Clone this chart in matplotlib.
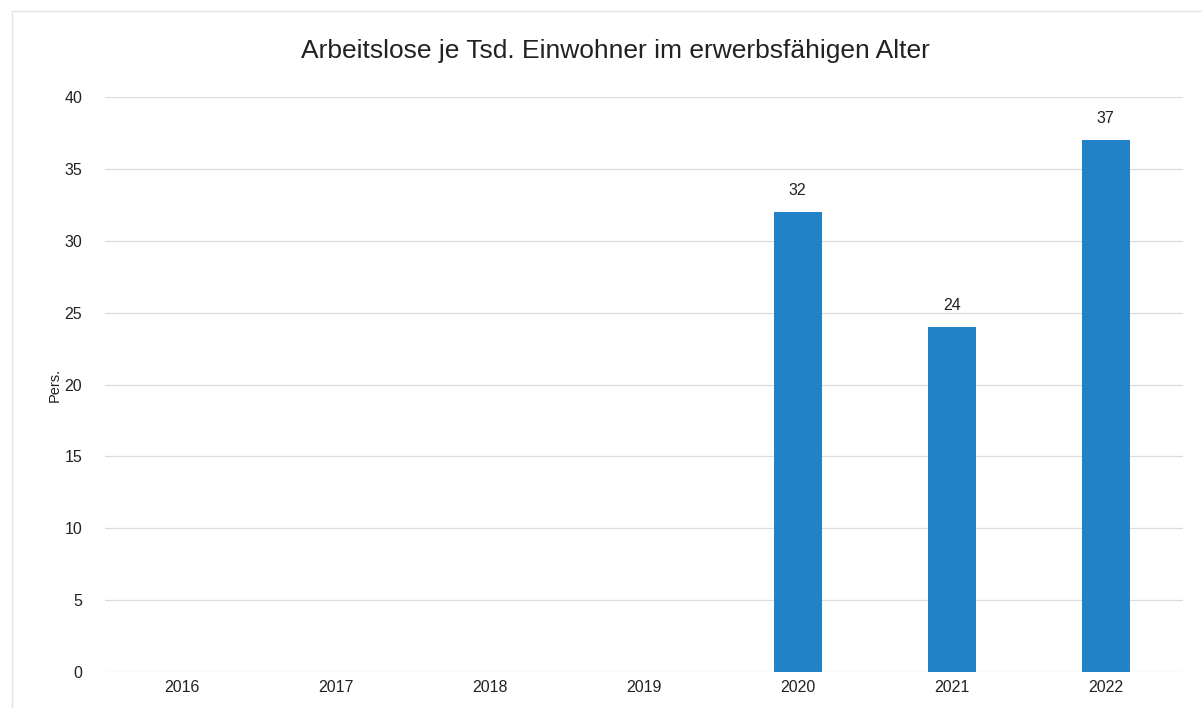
import matplotlib.pyplot as plt
from matplotlib.patches import Rectangle

plt.rcParams['font.family'] = ['Liberation Sans', 'DejaVu Sans']

years = ['2016', '2017', '2018', '2019', '2020', '2021', '2022']
values = [None, None, None, None, 32, 24, 37]
yticks = [0, 5, 10, 15, 20, 25, 30, 35, 40]

fig = plt.figure(figsize=(12.02, 7.08), dpi=100)
ax = fig.add_axes([0.087, 0.0508, 0.897, 0.812])

x = list(range(len(years)))
bx = [i for i, v in zip(x, values) if v is not None]
bv = [v for v in values if v is not None]
bars = ax.bar(bx, bv, width=0.31, color='#2182c8', zorder=3)
for b, v in zip(bars, bv):
    ax.text(b.get_x() + b.get_width() / 2, v + 1.0, str(v), ha='center', va='bottom',
            fontsize=11.5, color='#222222')

ax.set_xlim(-0.5, len(years) - 0.5)
ax.set_ylim(0, 40)
ax.set_xticks(x)
ax.set_xticklabels(years)
ax.set_yticks(yticks)
ax.tick_params(axis='both', length=0, labelsize=11.5, colors='#222222')
ax.tick_params(axis='y', pad=16)
ax.tick_params(axis='x', pad=6)
ax.grid(axis='y', color='#dcdcdc', linewidth=0.9, zorder=0)
for s in ax.spines.values():
    s.set_visible(False)

ax.set_ylabel('Pers.', fontsize=10.5, color='#222222', labelpad=2)
fig.text(0.512, 0.928, 'Arbeitslose je Tsd. Einwohner im erwerbsfähigen Alter',
         ha='center', va='center', fontsize=19, color='#222222')

# faint frame of the original chart box
fig.patches.append(Rectangle((0.01, -0.05), 1.2, 1.035, transform=fig.transFigure,
                             fill=False, edgecolor='#e4e4e4', linewidth=1))

fig.savefig('out.png', dpi=100)
